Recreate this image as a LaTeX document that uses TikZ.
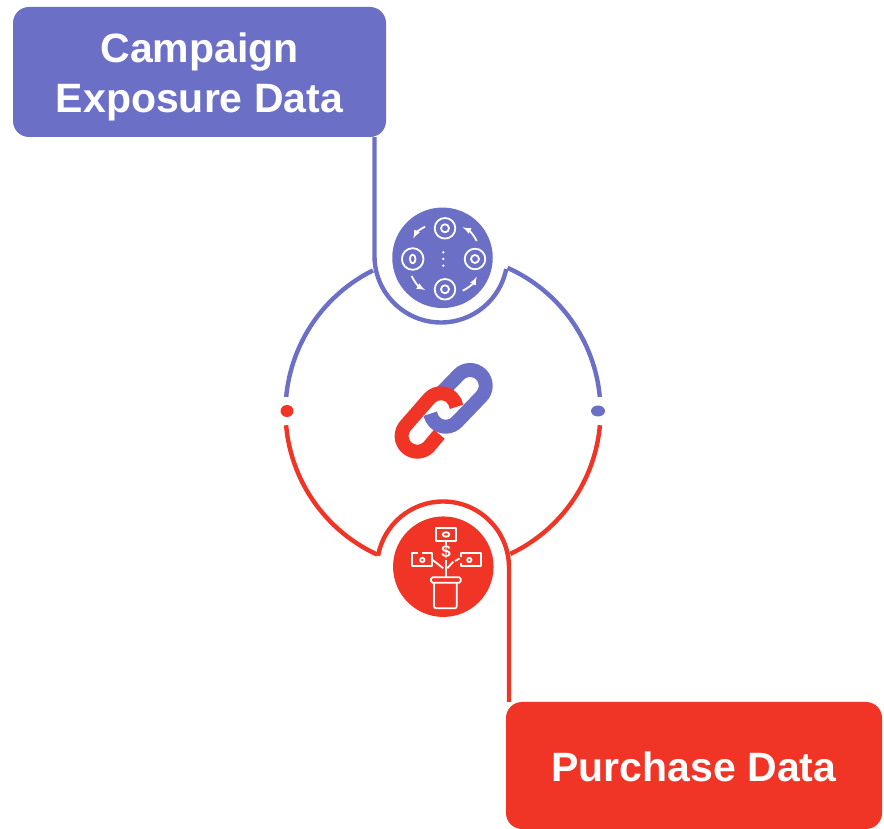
\documentclass[tikz,border=0pt]{standalone}
\usepackage{fontspec}
\setmainfont{Liberation Sans}
\usetikzlibrary{shapes.geometric}
\definecolor{linkblue}{HTML}{6B6FC6}
\definecolor{linkred}{HTML}{F03425}
\tikzset{
  databox/.style={draw=none,rounded corners=16bp,text=white,align=center,inner sep=0pt,
    font=\fontsize{41bp}{50bp}\selectfont\bfseries},
  iconcircle/.style={circle,draw=none,inner sep=0pt,minimum size=100.5bp},
  ringline/.style={line width=4.4bp},
  iconline/.style={white,line width=1.8bp},
  chainline/.style={line width=14bp},
}
\begin{document}
\begin{tikzpicture}[>=latex,line join=bevel,]
\useasboundingbox (0bp,0bp) rectangle (884bp,829bp);
%%
\node (node_campaign) at (199.5bp,757bp) [databox,fill=linkblue,minimum width=373bp,minimum height=130bp] {\rule{0pt}{40bp}Campaign\\Exposure Data};
\node (node_purchase) at (694bp,63.5bp) [databox,fill=linkred,minimum width=376bp,minimum height=127bp] {\rule{0pt}{32bp}Purchase Data};
\node (node_blueicon) at (442.5bp,571.2bp) [iconcircle,fill=linkblue] {};
\node (node_redicon) at (443.3bp,262.3bp) [iconcircle,fill=linkred] {};
\node (node_reddot) at (287bp,418bp) [ellipse,fill=linkred,inner sep=0pt,minimum width=13bp,minimum height=12bp] {};
\node (node_bluedot) at (598bp,418bp) [ellipse,fill=linkblue,inner sep=0pt,minimum width=14bp,minimum height=11bp] {};
%% ring
\coordinate (ring_center) at (443bp,417.5bp);
\draw [ringline,linkblue] (ring_center) ++(116.4:157.5bp) arc[start angle=116.4,end angle=174.7,radius=157.5bp];
\draw [ringline,linkblue] (ring_center) ++(65.8:157.5bp) arc[start angle=65.8,end angle=5.3,radius=157.5bp];
\draw [ringline,linkred] (ring_center) ++(185:157.5bp) arc[start angle=185,end angle=245.3,radius=157.5bp];
\draw [ringline,linkred] (ring_center) ++(355:157.5bp) arc[start angle=355,end angle=295.3,radius=157.5bp];
%% connectors
\coordinate (cup_blue) at (374.5bp,573bp);
\coordinate (cup_red) at (509bp,261.5bp);
\draw [ringline,linkblue] (cup_blue |- node_campaign.south) -- (cup_blue) arc[start angle=180,end angle=348.7,radius=66.5bp];
\draw [ringline,linkred] (cup_red |- node_purchase.north) -- (cup_red) arc[start angle=0,end angle=169.7,radius=66bp];
%% chain
\draw [chainline,linkblue] (442bp,436.9bp) -- (458.7bp,454.2bp) arc[start angle=136,end angle=-44,radius=15.7bp] -- (457bp,407.1bp) arc[start angle=-44,end angle=-170,radius=15.7bp];
\draw [chainline,linkred] (439.3bp,394.7bp) -- (429bp,382.5bp) arc[start angle=-42,end angle=-222,radius=15.7bp] -- (429.3bp,430.5bp) arc[start angle=138,end angle=8,radius=15.7bp];
%% blue icon
\foreach \x/\y in {445/600.7,475/570,445/539.7} {
  \draw [iconline] (\x bp,\y bp) circle (10.3bp);
  \draw [iconline] (\x bp,\y bp) circle (4bp);
}
\draw [iconline] (412.7bp,570bp) circle (10.8bp);
\draw [iconline] (412.7bp,570bp) ellipse (2.8bp and 4.4bp);
\foreach \y in {576.7,570,563.3} {
  \fill [white] (443.3bp,\y bp) circle (1.3bp);
}
\draw [iconline,->] (425bp,602.3bp) to[bend right=18] (413.3bp,590.7bp);
\draw [iconline,->] (476.7bp,588bp) to[bend right=18] (462.7bp,601.7bp);
\draw [iconline,->] (462.7bp,538.3bp) to[bend right=18] (476.7bp,552.3bp);
\draw [iconline,->] (411.7bp,553bp) to[bend right=18] (425bp,539bp);
%% red icon
\draw [iconline] (435.7bp,288.3bp) rectangle (455.7bp,301.3bp);
\draw [iconline] (446bp,294.5bp) ellipse (3.4bp and 2.2bp);
\draw [iconline] (418bp,276.3bp) -- (412.3bp,276.3bp) -- (412.3bp,263bp) -- (431.7bp,263bp) -- (431.7bp,276.3bp) -- (422bp,276.3bp);
\draw [iconline] (422.3bp,269bp) circle (2.2bp);
\draw [iconline] (461bp,272bp) -- (461bp,276.3bp) -- (480.7bp,276.3bp) -- (480.7bp,263bp) -- (461bp,263bp) -- (461bp,266bp);
\draw [iconline] (469.3bp,269bp) circle (2.2bp);
\node (node_dollar) at (446bp,276.7bp) [text=white,inner sep=0pt,font=\fontsize{17bp}{17bp}\selectfont\bfseries] {\$};
\draw [iconline] (445.7bp,288.3bp) -- (445.7bp,284bp);
\draw [iconline] (445.7bp,269bp) -- (445.7bp,251.7bp);
\draw [iconline] (432.7bp,269bp) -- (443.3bp,260.7bp);
\draw [iconline] (453.3bp,267.3bp) -- (447.3bp,260.7bp);
\draw [iconline] (455bp,268bp) -- (459.5bp,270.5bp);
\draw [iconline,rounded corners=1.5bp] (431bp,246.3bp) rectangle (460.7bp,251.7bp);
\draw [iconline,rounded corners=2bp] (434bp,246.3bp) -- (434bp,220.7bp) -- (456.7bp,220.7bp) -- (456.7bp,246.3bp);
%
\end{tikzpicture}
\end{document}
